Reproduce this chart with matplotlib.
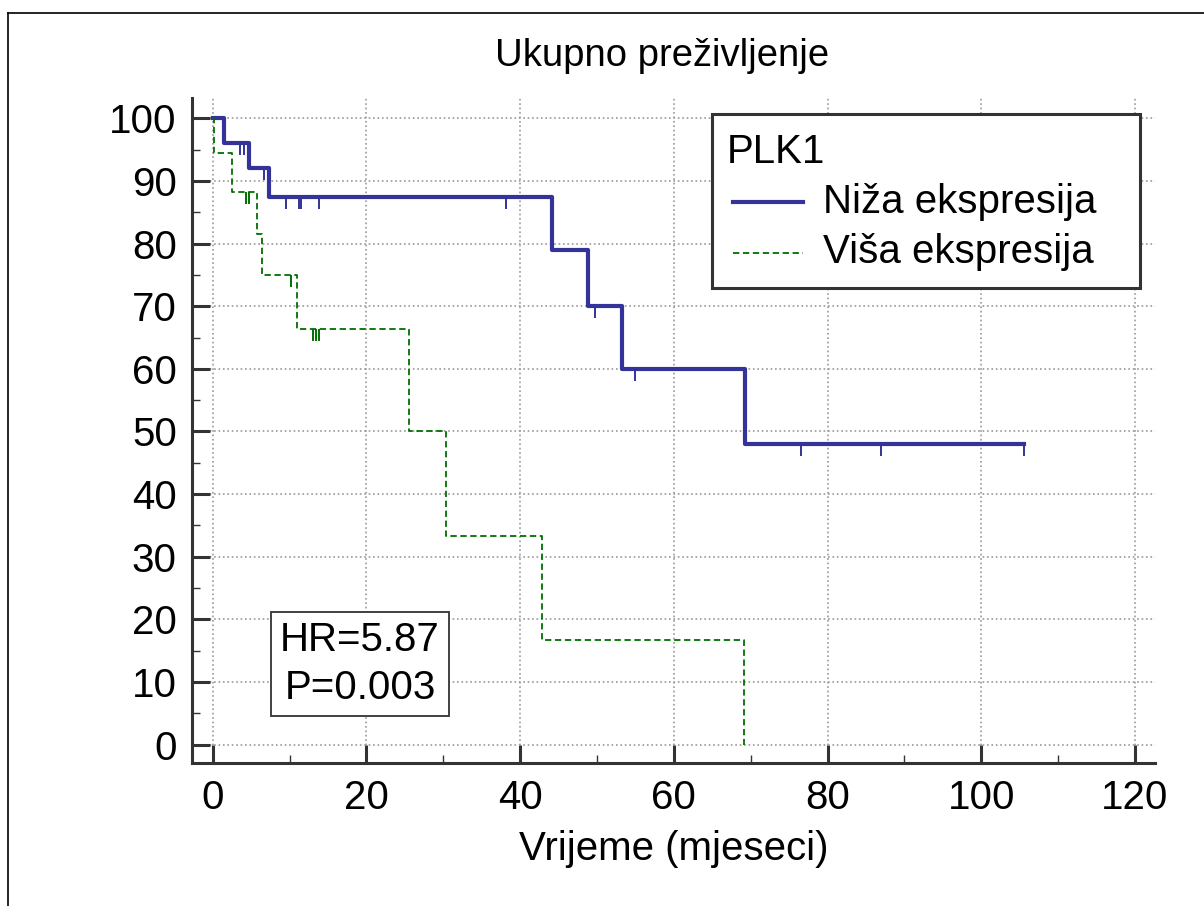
import numpy as np
import matplotlib
matplotlib.use('Agg')
import matplotlib.pyplot as plt
from matplotlib.lines import Line2D
from matplotlib.patches import Rectangle
from matplotlib.ticker import MultipleLocator

plt.rcParams['font.family'] = ['Liberation Sans', 'DejaVu Sans']

# Kaplan-Meier krivulje (ocitano sa slike)
niza_t = [0, 1.5, 4.7, 7.3, 44.1, 48.8, 53.3, 69.3, 105.6]
niza_s = [100, 96, 92, 87.5, 78.9, 70, 60, 48, 48]
niza_cens = [3.6, 4.0, 6.7, 9.5, 11.2, 11.5, 13.8, 38.1, 49.7, 54.9, 76.5, 86.9, 105.6]

visa_t = [0, 0.2, 2.5, 5.75, 6.45, 10.9, 25.5, 30.4, 42.9, 69.1]
visa_s = [100, 94.4, 88.2, 81.5, 75.0, 66.4, 50.0, 33.3, 16.7, 0]
visa_cens = [4.3, 4.7, 10.2, 13.1, 13.4, 13.8]

x_ticks = [0, 20, 40, 60, 80, 100, 120]
y_ticks = [0, 10, 20, 30, 40, 50, 60, 70, 80, 90, 100]

plava = '#333399'
zelena = '#007000'
siva = '#333333'
fs = 29


def level_at(t, times, surv):
    i = np.searchsorted(times, t, side='right') - 1
    return np.array(surv)[i]


fig = plt.figure(figsize=(12.04, 9.06), dpi=100)
ax = fig.add_axes([0.1595, 0.1575, 0.7998, 0.734])

ax.step(niza_t, niza_s, where='post', color=plava, lw=3.0, zorder=3)
cs = level_at(np.array(niza_cens), niza_t, niza_s)
ax.vlines(niza_cens, cs - 1.9, cs, color=plava, lw=1.4, zorder=3)

ax.step(visa_t, visa_s, where='post', color=zelena, lw=1.3,
        linestyle=(0, (3.5, 2)), zorder=3)
cs = level_at(np.array(visa_cens), visa_t, visa_s)
ax.vlines(visa_cens, cs - 1.9, cs, color=zelena, lw=1.4, zorder=3)

ax.set_xlim(-2.7, 122.6)
ax.set_ylim(-3.0, 103.2)
ax.set_xticks(x_ticks)
ax.set_yticks(y_ticks)
ax.xaxis.set_minor_locator(MultipleLocator(10))
ax.yaxis.set_minor_locator(MultipleLocator(5))
ax.grid(True, which='major', color='#999999', linestyle=':', lw=1.2, zorder=0)
ax.set_axisbelow(True)

for s in ['top', 'right']:
    ax.spines[s].set_visible(False)
for s in ['left', 'bottom']:
    ax.spines[s].set_color(siva)
    ax.spines[s].set_linewidth(2.2)

ax.tick_params(which='major', direction='in', length=13, width=2.2, color=siva,
               labelsize=fs, pad=11)
ax.tick_params(which='minor', direction='in', length=6, width=1.0, color=siva)

ax.set_xlabel('Vrijeme (mjeseci)', fontsize=fs, labelpad=10)
ax.text(0.488, 1.0486, 'Ukupno preživljenje', transform=ax.transAxes,
        ha='center', va='baseline', fontsize=27.5)

# legenda
ax.add_patch(Rectangle((0.540, 0.714), 0.444, 0.262, transform=ax.transAxes,
                       facecolor='white', edgecolor=siva, lw=2.2, zorder=5))
ax.text(0.555, 0.902, 'PLK1', transform=ax.transAxes, fontsize=fs,
        va='baseline', zorder=6)
ax.add_line(Line2D([0.5618, 0.6341], [0.8445, 0.8445], transform=ax.transAxes,
                   color=plava, lw=3.0, zorder=6))
ax.text(0.6553, 0.8275, 'Niža ekspresija', transform=ax.transAxes, fontsize=fs,
        va='baseline', zorder=6)
ax.add_line(Line2D([0.5618, 0.6341], [0.7678, 0.7678], transform=ax.transAxes,
                   color=zelena, lw=1.3, linestyle=(0, (3.5, 2)), zorder=6))
ax.text(0.6553, 0.7519, 'Viša ekspresija', transform=ax.transAxes, fontsize=fs,
        va='baseline', zorder=6)

# HR i P
ax.text(0.1745, 0.1495, 'HR=5.87\nP=0.003', transform=ax.transAxes, fontsize=fs,
        ha='center', va='center', linespacing=1.35, zorder=5,
        bbox=dict(boxstyle='square,pad=0.22', facecolor='white', edgecolor=siva, lw=1.3))

# okvir slike (lijevo i gore)
fig.add_artist(Line2D([8 / 1204, 8 / 1204], [0, 1 - 13 / 906], color='black', lw=1.2))
fig.add_artist(Line2D([8 / 1204, 1], [1 - 13 / 906, 1 - 13 / 906], color='black', lw=1.2))

fig.savefig('out.png', dpi=100)
